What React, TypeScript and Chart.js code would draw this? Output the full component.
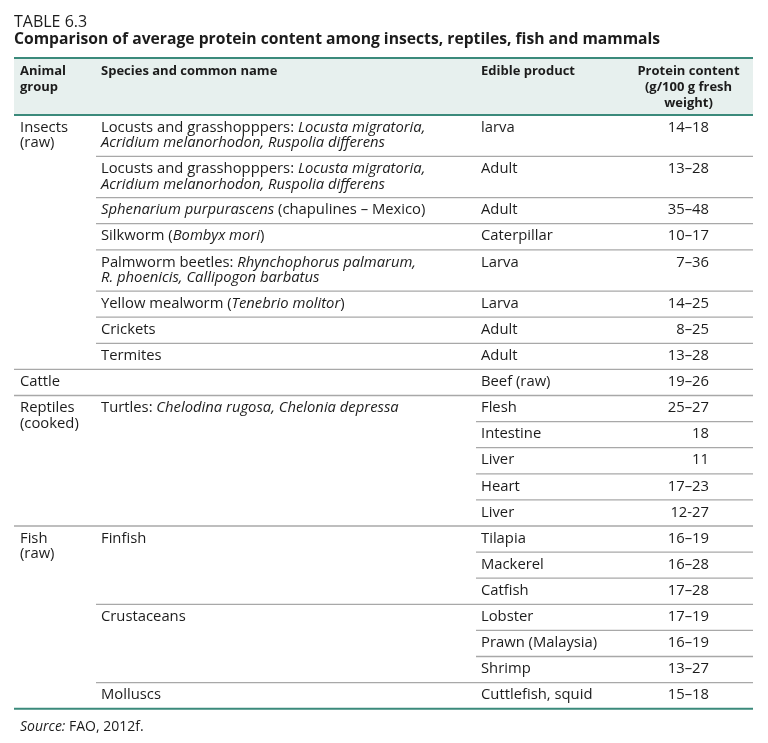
import React, { useEffect, useRef } from "react";
import { Chart, registerables } from "chart.js";

Chart.register(...registerables);

// ---------- DATA ----------
const tableNumber = "TABLE 6.3";
const tableTitle =
  "Comparison of average protein content among insects, reptiles, fish and mammals";
const headerLabels: string[][] = [
  ["Animal", "group"],
  ["Species and common name"],
  ["Edible product"],
  ["Protein content", "(g/100 g fresh", "weight)"],
];
const animalGroups: string[][] = [
  ["Insects", "(raw)"],
  ["Cattle"],
  ["Reptiles", "(cooked)"],
  ["Fish", "(raw)"],
];
const animalGroupRowSpans = [8, 1, 5, 7];
// *...* marks italic text
const speciesNames: string[][] = [
  ["Locusts and grasshopppers: *Locusta migratoria,*", "*Acridium melanorhodon, Ruspolia differens*"],
  ["Locusts and grasshopppers: *Locusta migratoria,*", "*Acridium melanorhodon, Ruspolia differens*"],
  ["*Sphenarium purpurascens* (chapulines – Mexico)"],
  ["Silkworm (*Bombyx mori*)"],
  ["Palmworm beetles: *Rhynchophorus palmarum,*", "*R. phoenicis, Callipogon barbatus*"],
  ["Yellow mealworm (*Tenebrio molitor*)"],
  ["Crickets"],
  ["Termites"],
  [],
  ["Turtles: *Chelodina rugosa, Chelonia depressa*"],
  ["Finfish"],
  ["Crustaceans"],
  ["Molluscs"],
];
const speciesRowSpans = [1, 1, 1, 1, 1, 1, 1, 1, 1, 5, 3, 3, 1];
const edibleProducts = [
  "larva", "Adult", "Adult", "Caterpillar", "Larva", "Larva", "Adult", "Adult",
  "Beef (raw)", "Flesh", "Intestine", "Liver", "Heart", "Liver",
  "Tilapia", "Mackerel", "Catfish", "Lobster", "Prawn (Malaysia)", "Shrimp",
  "Cuttlefish, squid",
];
const proteinContent = [
  "14–18", "13–28", "35–48", "10–17", "7–36", "14–25", "8–25", "13–28",
  "19–26", "25–27", "18", "11", "17–23", "12-27",
  "16–19", "16–28", "17–28", "17–19", "16–19", "13–27", "15–18",
];
const sourceNote = "*Source:* FAO, 2012f.";

// ---------- STYLE ----------
const FONT = "'Open Sans', 'Noto Sans', sans-serif";
const TEXT = "#1c1c1c";
const TEAL = "#3b8a7b";
const GRID = "#a8a8a8";
const HEAD_BG = "#e7f0ee";

const W = 768;
const H = 743;

function drawRich(
  ctx: CanvasRenderingContext2D,
  line: string,
  x: number,
  y: number,
  size: number,
  weight: string,
  align: "left" | "right" | "center" = "left"
) {
  const parts = line.split("*");
  const segs = parts.map((t, i) => ({ t, it: i % 2 === 1 })).filter((s) => s.t.length);
  const fontOf = (it: boolean) => `${it ? "italic " : ""}${weight} ${size}px ${FONT}`;
  let total = 0;
  for (const s of segs) {
    ctx.font = fontOf(s.it);
    total += ctx.measureText(s.t).width;
  }
  let cx = x;
  if (align === "right") cx = x - total;
  if (align === "center") cx = x - total / 2;
  ctx.textAlign = "left";
  ctx.textBaseline = "alphabetic";
  for (const s of segs) {
    ctx.font = fontOf(s.it);
    ctx.fillText(s.t, cx, y);
    cx += ctx.measureText(s.t).width;
  }
}

const tablePlugin = {
  id: "tablePlugin",
  afterDraw(chart: any) {
    const ctx: CanvasRenderingContext2D = chart.ctx;
    const xs = chart.scales.x;
    const ys = chart.scales.y;
    const X = (v: number) => xs.getPixelForValue(v);
    const Y = (v: number) => ys.getPixelForValue(v);

    const left = 14, right = 753;
    const colX = [20, 101, 481, 709];
    const colLineStart = [14, 96, 476];
    const nRows = edibleProducts.length;

    // row line counts
    const rowLines = new Array(nRows).fill(1);
    let r = 0;
    speciesNames.forEach((lines, i) => {
      if (speciesRowSpans[i] === 1) rowLines[r] = Math.max(1, lines.length);
      r += speciesRowSpans[i];
    });
    const tops: number[] = [115];
    for (let i = 0; i < nRows; i++) tops.push(tops[i] + (rowLines[i] > 1 ? 41.3 : 26.1));

    // starts
    const groupStarts: number[] = [];
    r = 0;
    animalGroupRowSpans.forEach((s) => { groupStarts.push(r); r += s; });
    const speciesStarts: number[] = [];
    r = 0;
    speciesRowSpans.forEach((s) => { speciesStarts.push(r); r += s; });

    ctx.save();
    ctx.fillStyle = TEXT;
    // titles
    drawRich(ctx, tableNumber, X(14), Y(27), 16, "normal");
    drawRich(ctx, tableTitle, X(14), Y(43.5), 15.7, "bold");

    // header background
    ctx.fillStyle = HEAD_BG;
    ctx.fillRect(X(left), Y(59), X(right) - X(left), Y(114) - Y(59));

    // header text
    ctx.fillStyle = TEXT;
    headerLabels.forEach((lines, c) => {
      lines.forEach((ln, k) => {
        const y = Y(75 + k * 15.9);
        if (c === 3) drawRich(ctx, ln, X(688.5), y, 13, "bold", "center");
        else drawRich(ctx, ln, X(colX[c]), y, 13, "bold");
      });
    });

    // separators
    ctx.strokeStyle = GRID;
    ctx.lineWidth = 1.3;
    for (let i = 1; i < nRows; i++) {
      let sx = colLineStart[2];
      if (groupStarts.includes(i)) sx = colLineStart[0];
      else if (speciesStarts.includes(i)) sx = colLineStart[1];
      const y = Y(tops[i]);
      ctx.beginPath();
      ctx.moveTo(X(sx), y);
      ctx.lineTo(X(right), y);
      ctx.stroke();
    }

    // teal rules
    ctx.strokeStyle = TEAL;
    ctx.lineWidth = 2;
    [58, 115, tops[nRows]].forEach((v) => {
      ctx.beginPath();
      ctx.moveTo(X(left), Y(v));
      ctx.lineTo(X(right), Y(v));
      ctx.stroke();
    });

    // body text
    ctx.fillStyle = TEXT;
    const base = 16.7, lh = 15.7, fs = 14.8;
    animalGroups.forEach((lines, g) => {
      const top = tops[groupStarts[g]];
      lines.forEach((ln, k) => drawRich(ctx, ln, X(colX[0]), Y(top + base + k * lh), fs, "normal"));
    });
    speciesNames.forEach((lines, s) => {
      const top = tops[speciesStarts[s]];
      lines.forEach((ln, k) => drawRich(ctx, ln, X(colX[1]), Y(top + base + k * lh), fs, "normal"));
    });
    edibleProducts.forEach((p, i) => drawRich(ctx, p, X(colX[2]), Y(tops[i] + base), fs, "normal"));
    proteinContent.forEach((p, i) => drawRich(ctx, p, X(colX[3]), Y(tops[i] + base), fs, "normal", "right"));

    // source
    drawRich(ctx, sourceNote, X(20), Y(731), 14, "normal");
    ctx.restore();
  },
};

export default function App() {
  const ref = useRef<HTMLCanvasElement | null>(null);
  useEffect(() => {
    if (!ref.current) return;
    const chart = new Chart(ref.current, {
      type: "scatter",
      data: { datasets: [{ data: [], pointRadius: 0 }] },
      options: {
        animation: false,
        responsive: false,
        devicePixelRatio: 1,
        layout: { padding: 0 },
        plugins: { legend: { display: false }, tooltip: { enabled: false } },
        scales: {
          x: { type: "linear", display: false, min: 0, max: W },
          y: { type: "linear", display: false, min: 0, max: H, reverse: true },
        },
      },
      plugins: [tablePlugin],
    });
    return () => chart.destroy();
  }, []);
  return (
    <div style={{ position: "fixed", left: 0, top: 0, width: W, height: H, background: "#fff" }}>
      <canvas ref={ref} width={W} height={H} style={{ display: "block" }} />
    </div>
  );
}
